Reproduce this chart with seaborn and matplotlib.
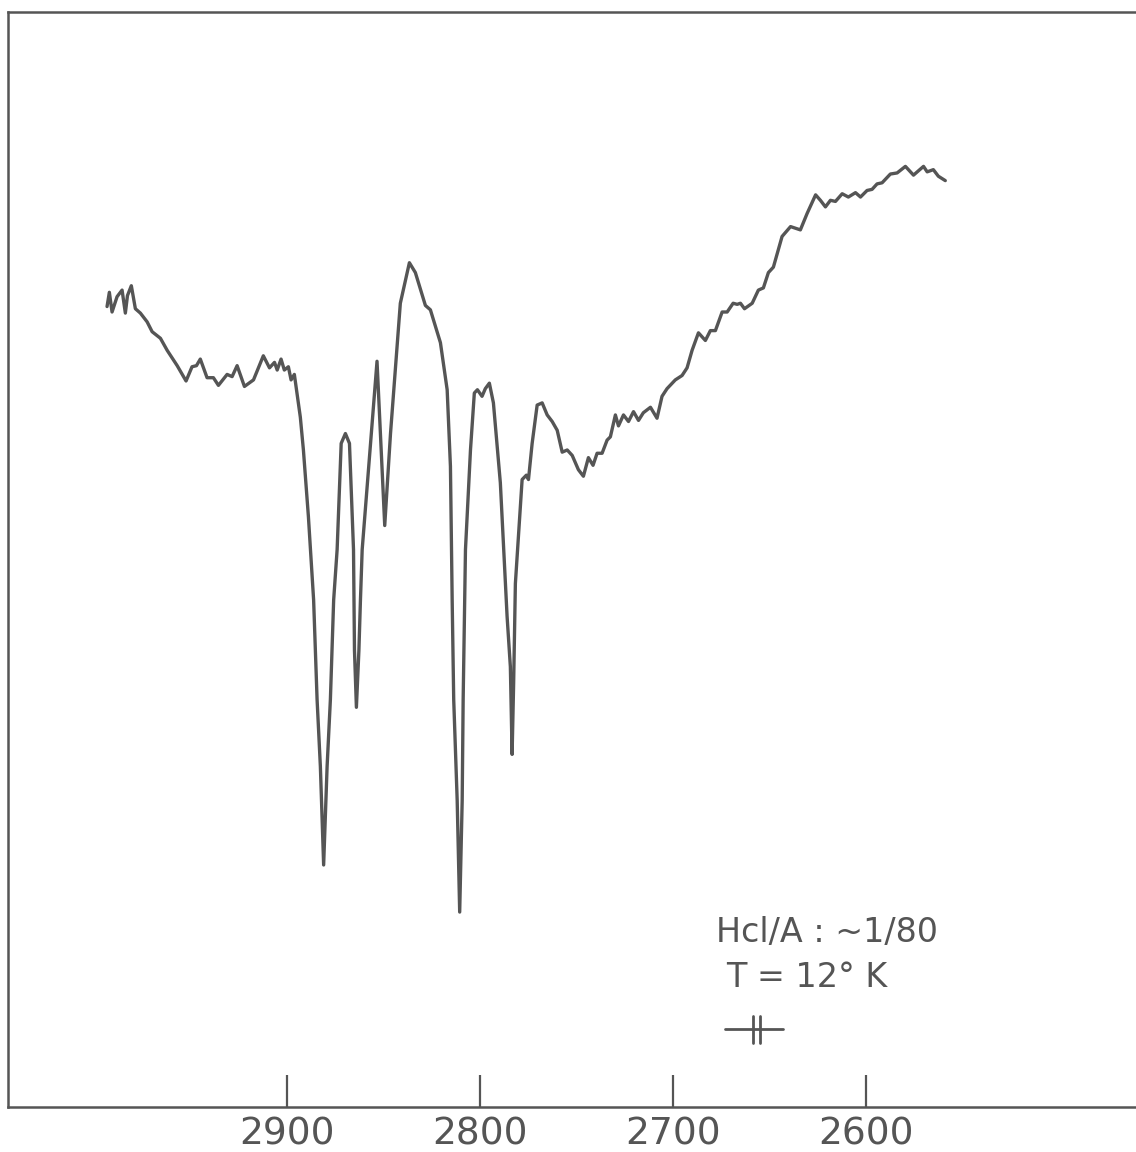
import numpy as np
import pandas as pd
import matplotlib
matplotlib.use("Agg")
import matplotlib.pyplot as plt
import seaborn as sns

# wavenumber (cm-1) and transmission (arbitrary %)
wavenumber = [
    2993.6, 2992.4, 2991.0, 2988.4, 2985.8, 2984.1, 2983.0, 2981.0, 2978.9, 2976.3,
    2972.8, 2970.2, 2965.9, 2962.4, 2957.2, 2952.6, 2949.5, 2947.2, 2945.2, 2941.7,
    2938.4, 2935.8, 2931.3, 2928.7, 2926.1, 2922.3, 2917.6, 2912.5, 2909.3, 2906.7,
    2905.3, 2903.3, 2901.6, 2899.5, 2898.1, 2896.4, 2893.3, 2891.7, 2889.1, 2886.4,
    2884.6, 2882.9, 2881.2, 2879.4, 2877.7, 2876.0, 2874.2, 2872.1, 2869.9, 2867.8,
    2865.7, 2865.2, 2864.2, 2862.9, 2862.1, 2861.2, 2853.5, 2849.5, 2846.5, 2841.4,
    2836.7, 2833.6, 2828.4, 2825.8, 2820.6, 2817.1, 2815.4, 2814.5, 2813.7, 2811.9,
    2810.6, 2809.3, 2808.8, 2808.0, 2807.6, 2805.0, 2803.0, 2801.4, 2799.0, 2797.3,
    2795.2, 2793.1, 2789.5, 2786.0, 2784.3, 2783.4, 2782.6, 2781.7, 2778.2, 2776.0,
    2774.9, 2773.0, 2770.4, 2767.8, 2765.2, 2762.6, 2760.0, 2757.4, 2754.8, 2752.2,
    2749.0, 2746.4, 2743.8, 2741.4, 2739.3, 2736.7, 2734.1, 2732.4, 2729.8, 2728.2,
    2725.6, 2723.0, 2720.4, 2717.8, 2715.3, 2711.6, 2708.2, 2705.6, 2703.0, 2698.7,
    2695.2, 2692.6, 2690.0, 2686.7, 2683.1, 2680.5, 2677.9, 2674.4, 2671.8, 2668.7,
    2666.6, 2664.9, 2662.8, 2658.8, 2655.6, 2653.0, 2650.4, 2647.8, 2643.3, 2638.9,
    2633.8, 2630.3, 2625.9, 2623.4, 2620.8, 2618.2, 2615.6, 2612.1, 2608.9, 2605.2,
    2602.6, 2599.2, 2596.6, 2594.0, 2591.4, 2587.1, 2583.6, 2579.3, 2575.1, 2569.9,
    2568.0, 2564.8, 2562.2, 2558.6,
]
transmission = [
    73.1, 74.4, 72.6, 74.0, 74.6, 72.5, 74.1, 75.0, 72.9, 72.5,
    71.7, 70.8, 70.2, 69.1, 67.7, 66.3, 67.6, 67.7, 68.3, 66.6,
    66.6, 65.9, 66.9, 66.7, 67.7, 65.8, 66.4, 68.6, 67.5, 68.0,
    67.3, 68.3, 67.3, 67.6, 66.4, 66.9, 63.0, 60.0, 53.9, 46.3,
    37.2, 31.1, 22.1, 31.1, 37.2, 46.3, 50.9, 60.6, 61.5, 60.6,
    50.9, 41.7, 36.5, 41.7, 46.3, 50.9, 68.1, 53.1, 61.5, 73.4,
    77.1, 76.2, 73.2, 72.8, 69.8, 65.5, 58.5, 46.3, 37.2, 28.0,
    17.8, 28.0, 37.2, 46.3, 50.9, 60.0, 65.2, 65.5, 64.9, 65.6,
    66.1, 64.3, 57.0, 44.8, 40.2, 32.2, 38.7, 47.8, 57.3, 57.7,
    57.3, 60.6, 64.1, 64.3, 63.2, 62.6, 61.8, 59.8, 60.0, 59.5,
    58.2, 57.6, 59.3, 58.6, 59.7, 59.7, 60.9, 61.2, 63.2, 62.2,
    63.2, 62.6, 63.5, 62.7, 63.4, 63.9, 62.9, 64.9, 65.6, 66.4,
    66.8, 67.5, 69.1, 70.7, 70.0, 70.9, 70.9, 72.6, 72.6, 73.4,
    73.3, 73.4, 72.9, 73.4, 74.6, 74.8, 76.2, 76.7, 79.5, 80.4,
    80.1, 81.6, 83.3, 82.8, 82.2, 82.8, 82.7, 83.4, 83.1, 83.5,
    83.1, 83.7, 83.8, 84.3, 84.4, 85.2, 85.3, 85.9, 85.1, 85.9,
    85.4, 85.6, 85.0, 84.6,
]
tick_values = [2900, 2800, 2700, 2600]
note_lines = ["Hcl/A : ~1/80", "T = 12° K"]

ink = "#555555"

sns.set_theme(style="white")
plt.rcParams["font.family"] = ["DejaVu Sans"]

df = pd.DataFrame({"wn": wavenumber, "T": transmission})

fig = plt.figure(figsize=(11.36, 11.52), dpi=100)
ax = fig.add_axes([0.00704, 0.0391, 1.0093, 0.9505])

sns.lineplot(data=df, x="wn", y="T", sort=False, color=ink, linewidth=2.4, ax=ax)

ax.set_xlim(3045, 2450)
ax.set_ylim(0, 100)
ax.set_xticks(tick_values)
ax.set_xticklabels([str(t) for t in tick_values])
ax.set_yticks([])
ax.set_xlabel("")
ax.set_ylabel("")
ax.tick_params(axis="x", direction="in", length=23, width=1.6, color=ink,
               labelsize=27, labelcolor=ink, pad=7, bottom=True)

for side in ["left", "top", "bottom", "right"]:
    ax.spines[side].set_color(ink)
    ax.spines[side].set_linewidth(1.8)

# annotation block
ax.text(2677.4, 15.1, note_lines[0], fontsize=24, color=ink, ha="left",
        va="baseline")
ax.text(2672.2, 11.0, note_lines[1], fontsize=24, color=ink, ha="left",
        va="baseline")

# slit-width symbol
ax.plot([2672.7, 2642.6], [7.1, 7.1], color=ink, linewidth=2.0)
ax.plot([2658.5, 2658.5], [5.8, 8.3], color=ink, linewidth=2.0)
ax.plot([2655.0, 2655.0], [5.8, 8.3], color=ink, linewidth=2.0)

fig.savefig("out.png", dpi=100)
